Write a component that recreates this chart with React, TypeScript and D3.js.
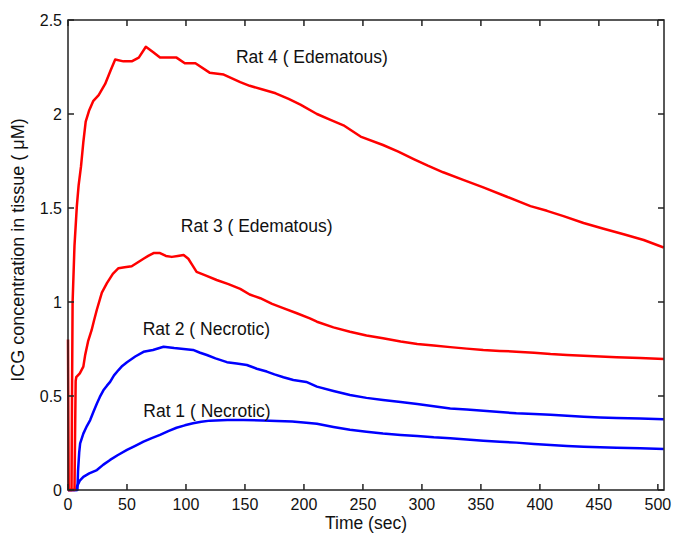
import React from "react";
import * as d3 from "d3";

type P = [number, number];

const rat1: P[] = [[0,0],[7,0],[7.5,0.018],[10,0.05],[13,0.07],[18,0.088],[24.5,0.106],[30,0.135],[35.7,0.16],[42,0.185],[50,0.213],[57,0.235],[64,0.257],[71,0.276],[78,0.293],[85,0.313],[92,0.331],[99,0.344],[106,0.355],[113,0.363],[120.5,0.369],[135,0.372],[148.7,0.372],[165,0.37],[177,0.367],[190,0.364],[202,0.358],[211,0.352],[225,0.335],[239,0.32],[253,0.31],[267,0.3],[282,0.293],[296,0.287],[310,0.28],[324,0.275],[338,0.268],[352,0.262],[366,0.257],[380,0.252],[395,0.245],[409,0.239],[423,0.234],[437,0.23],[451,0.227],[465,0.225],[485,0.222],[505,0.218]];

const rat2: P[] = [[0,0],[8,0],[8.5,0.1],[9.5,0.2],[10.3,0.248],[13,0.3],[16,0.34],[18.8,0.372],[21.5,0.415],[24.5,0.46],[27,0.495],[30,0.53],[33,0.555],[35.7,0.575],[39,0.61],[42.8,0.638],[46,0.66],[50,0.68],[57,0.71],[64,0.735],[72,0.745],[81,0.762],[90,0.755],[98,0.75],[106,0.745],[112,0.73],[117.7,0.718],[125,0.7],[134.7,0.68],[143,0.673],[151.6,0.665],[160,0.645],[168.5,0.63],[175,0.615],[182.6,0.6],[191,0.585],[202,0.575],[211,0.55],[225,0.527],[239,0.505],[253,0.49],[267,0.479],[282,0.468],[296,0.457],[310,0.445],[324,0.434],[338,0.428],[352,0.422],[366,0.415],[380,0.408],[395,0.404],[409,0.4],[423,0.395],[437,0.39],[451,0.386],[465,0.383],[485,0.38],[505,0.376]];

const rat3: P[] = [[0,0.8],[0.6,0],[5.5,0],[6,0.3],[6.5,0.58],[7,0.6],[10,0.62],[13,0.656],[14.6,0.72],[17,0.79],[20,0.85],[22,0.9],[24.5,0.96],[28.7,1.05],[33,1.1],[38,1.15],[42.8,1.18],[48,1.185],[54,1.19],[59,1.21],[64,1.23],[68,1.245],[72.5,1.26],[78,1.26],[83,1.245],[88,1.24],[93,1.245],[98,1.25],[102,1.23],[105,1.2],[109,1.16],[117,1.14],[126,1.117],[136,1.095],[146,1.07],[154,1.04],[163,1.02],[173,0.99],[183,0.966],[194,0.94],[205,0.913],[211,0.895],[225,0.865],[239,0.842],[253,0.822],[267,0.807],[282,0.79],[296,0.777],[310,0.768],[324,0.76],[338,0.752],[352,0.745],[366,0.74],[380,0.736],[395,0.73],[409,0.723],[423,0.718],[437,0.714],[451,0.71],[465,0.706],[485,0.702],[505,0.697]];

const rat4: P[] = [[0,0],[3,0],[3.4,0.5],[3.9,1.0],[5.5,1.3],[7.5,1.51],[9,1.62],[11,1.72],[13,1.85],[15,1.96],[18,2.02],[21.5,2.07],[26,2.1],[31.5,2.16],[36,2.23],[40,2.29],[47,2.28],[54,2.28],[60,2.3],[66,2.358],[72,2.33],[78,2.3],[85,2.3],[92,2.3],[99,2.27],[108,2.27],[120,2.22],[132,2.21],[146,2.17],[154,2.15],[165,2.13],[176,2.11],[187,2.08],[197,2.05],[211,2.0],[222,1.97],[233.5,1.94],[248,1.88],[267,1.835],[280,1.8],[293,1.76],[305,1.725],[318,1.69],[335,1.65],[352,1.61],[372,1.56],[392,1.51],[406,1.485],[420,1.457],[437,1.42],[454,1.39],[471,1.36],[488,1.33],[505,1.29]];

const series = [
  { name: "Rat 1", data: rat1, color: "#0000ff" },
  { name: "Rat 2", data: rat2, color: "#0000ff" },
  { name: "Rat 3", data: rat3, color: "#ff0000" },
  { name: "Rat 4", data: rat4, color: "#ff0000" },
];

const annotations = [
  { text: "Rat 4 ( Edematous)", t: 142.4, v: 2.27 },
  { text: "Rat 3 ( Edematous)", t: 95.6, v: 1.371 },
  { text: "Rat 2 ( Necrotic)", t: 63.3, v: 0.824 },
  { text: "Rat 1 ( Necrotic)", t: 63.8, v: 0.39 },
];

const xTicks = [0, 50, 100, 150, 200, 250, 300, 350, 400, 450, 500];
const yTicks = [0, 0.5, 1, 1.5, 2, 2.5];
const yTickLabels = ["0", "0.5", "1", "1.5", "2", "2.5"];

const W = 674, H = 538;
const L = 68, R = 664, T = 20, B = 490;

export default function App() {
  const x = d3.scaleLinear().domain([0, 505.2]).range([L, R]);
  const y = d3.scaleLinear().domain([0, 2.5]).range([B, T]);
  const line = d3.line<P>().x(d => x(d[0])).y(d => y(d[1]));
  const font = "'Liberation Sans', Arial, sans-serif";
  const tk = 6;
  return (
    <div style={{ position: "fixed", left: 0, top: 0, background: "#fff" }}>
      <svg width={W} height={H} style={{ display: "block" }}>
        <rect x={0} y={0} width={W} height={H} fill="#fff" />
        <defs>
          <clipPath id="clip">
            <rect x={L - 2} y={T} width={R - L + 2} height={B - T + 2} />
          </clipPath>
        </defs>
        <g clipPath="url(#clip)">
          {series.map(s => (
            <path key={s.name} d={line(s.data) || ""} fill="none" stroke={s.color} strokeWidth={2.5} strokeLinejoin="round" />
          ))}
        </g>
        {xTicks.map(t => (
          <g key={"x" + t}>
            <line x1={x(t)} x2={x(t)} y1={B} y2={B - tk} stroke="#222" strokeWidth={1.5} />
            <line x1={x(t)} x2={x(t)} y1={T} y2={T + tk} stroke="#222" strokeWidth={1.5} />
            <text x={x(t)} y={B + 20} fontSize={16} fontFamily={font} textAnchor="middle" fill="#111">{t}</text>
          </g>
        ))}
        {yTicks.map((t, i) => (
          <g key={"y" + t}>
            <line x1={L} x2={L + tk} y1={y(t)} y2={y(t)} stroke="#222" strokeWidth={1.5} />
            <line x1={R} x2={R - tk} y1={y(t)} y2={y(t)} stroke="#222" strokeWidth={1.5} />
            <text x={L - 6} y={y(t) + 6} fontSize={16} fontFamily={font} textAnchor="end" fill="#111">{yTickLabels[i]}</text>
          </g>
        ))}
        <rect x={L} y={T} width={R - L} height={B - T} fill="none" stroke="#222" strokeWidth={1.5} />
        {annotations.map(a => (
          <text key={a.text} x={x(a.t)} y={y(a.v)} fontSize={17.5} fontFamily={font} fill="#111">{a.text}</text>
        ))}
        <text x={(L + R) / 2} y={529} fontSize={17.5} fontFamily={font} textAnchor="middle" fill="#111">Time (sec)</text>
        <text transform={`translate(24, 250) rotate(-90)`} fontSize={18} fontFamily={font} textAnchor="middle" fill="#111">ICG concentration in tissue ( μM)</text>
      </svg>
    </div>
  );
}
